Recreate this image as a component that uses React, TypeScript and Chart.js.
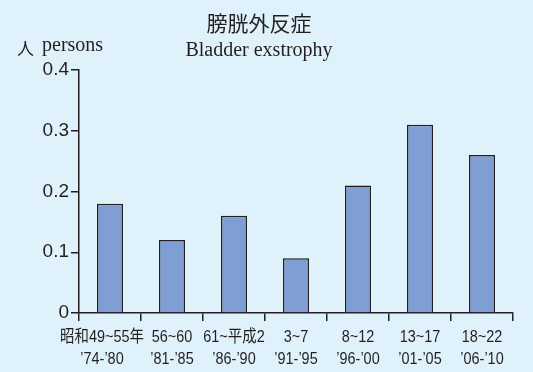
import React, { useEffect, useRef } from "react";
import { Chart, registerables } from "chart.js";

Chart.register(...registerables);

const categories: string[][] = [
  ["昭和49~55年", "’74-’80"],
  ["56~60", "’81-’85"],
  ["61~平成2", "’86-’90"],
  ["3~7", "’91-’95"],
  ["8~12", "’96-’00"],
  ["13~17", "’01-’05"],
  ["18~22", "’06-’10"],
];
const values: number[] = [0.18, 0.12, 0.16, 0.09, 0.21, 0.31, 0.26];
const titleJa = "膀胱外反症";
const titleEn = "Bladder exstrophy";
const unitJa = "人";
const unitEn = "persons";

const BG = "#dff2fb";
const INK = "#231f20";
const BAR = "#7f9fd4";
const SANS = "'Liberation Sans', 'Noto Sans CJK JP', sans-serif";
const SERIF = "'Liberation Serif', 'Noto Sans CJK JP', serif";

export default function App() {
  const ref = useRef<HTMLCanvasElement | null>(null);
  useEffect(() => {
    if (!ref.current) return;
    const textPlugin = {
      id: "texts",
      beforeDraw(chart: any) {
        const ctx = chart.ctx;
        ctx.save();
        ctx.fillStyle = BG;
        ctx.fillRect(0, 0, chart.width, chart.height);
        ctx.restore();
      },
      afterDraw(chart: any) {
        const ctx = chart.ctx;
        ctx.save();
        ctx.fillStyle = INK;
        ctx.textBaseline = "middle";
        ctx.textAlign = "center";
        ctx.font = "21px 'Noto Sans CJK JP', sans-serif";
        ctx.fillText(titleJa, 259, 23);
        ctx.font = "20px " + SERIF;
        ctx.fillText(titleEn, 259, 51);
        ctx.textAlign = "left";
        ctx.font = "17px 'Noto Sans CJK JP', sans-serif";
        ctx.fillText(unitJa, 17, 49);
        ctx.font = "20px " + SERIF;
        ctx.fillText(unitEn, 42, 46);
        // condensed category labels, positioned by the x scale
        const xs = chart.scales.x;
        const base = xs.top;
        ctx.font = "17px " + SANS;
        ctx.textAlign = "center";
        categories.forEach((lines, i) => {
          const cx = xs.getPixelForValue(i) + (i === 0 ? -8 : 0);
          lines.forEach((ln, j) => {
            ctx.save();
            ctx.translate(cx, base + 24.5 + j * 22);
            ctx.scale(0.85, 1);
            ctx.fillText(ln, 0, 0);
            ctx.restore();
          });
        });
        ctx.restore();
      },
    };
    const chart = new Chart(ref.current, {
      type: "bar",
      data: {
        labels: categories,
        datasets: [
          {
            data: values,
            backgroundColor: BAR,
            borderColor: INK,
            borderWidth: 1.5,
            barPercentage: 0.42,
            categoryPercentage: 1,
          },
        ],
      },
      options: {
        animation: false,
        responsive: false,
        layout: { padding: { top: 70, right: 20, left: 0, bottom: 0 } },
        plugins: { legend: { display: false }, tooltip: { enabled: false }, title: { display: false } },
        scales: {
          x: {
            offset: true,
            grid: { offset: true, drawOnChartArea: false, drawTicks: true, tickLength: 8, color: INK, lineWidth: 1.5 },
            border: { color: INK, width: 1.5 },
            ticks: { display: false, autoSkip: false },
            afterFit: (s: any) => {
              s.height = 59;
            },
          },
          y: {
            min: 0,
            max: 0.4,
            grid: { drawOnChartArea: false, drawTicks: true, tickLength: 8, color: INK, lineWidth: 1.5 },
            border: { color: INK, width: 1.5 },
            ticks: {
              stepSize: 0.1,
              color: INK,
              padding: 2,
              font: { family: SANS, size: 19 },
              callback: (v: any) => (Number(v) === 0 ? "0" : Number(v).toFixed(1)),
            },
            afterFit: (s: any) => {
              s.width = 79;
            },
          },
        },
      },
      plugins: [textPlugin],
    });
    return () => chart.destroy();
  }, []);
  return (
    <div style={{ position: "absolute", left: 0, top: 0, width: 533, height: 372 }}>
      <canvas ref={ref} width={533} height={372} style={{ display: "block" }} />
    </div>
  );
}
